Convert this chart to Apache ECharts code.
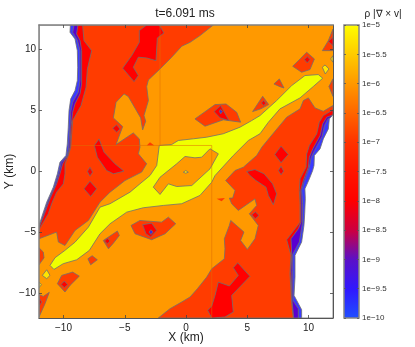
<!DOCTYPE html>
<html>
<head>
<meta charset="utf-8">
<style>
  html, body { margin: 0; padding: 0; background: #fff; }
  #chart { width: 415px; height: 347px; }
</style>
<script src="https://cdn.jsdelivr.net/npm/echarts@6/dist/echarts.min.js"></script>
</head>
<body>
<div id="chart"></div>
<script>
// contour outlines, all in km
const plotExtent = [-12, 12];
const tickValues = [-10, -5, 0, 5, 10];

const orangeRedRegions = [
  // big band on the left, runs over the top of the orange patch near (-5, 4)
  [[2.23,12],[1.14,11.13],[0.33,10.58],[-0.35,10.26],[-1.17,9.36],[-2.12,8.4],[-3.07,7.5],[-3.21,6.96],[-3.07,5.81],[-3.43,4.58],[-3.29,4.12],[-3.54,3.41],[-3.7,4.39],[-4.71,6.14],[-5.06,6.36],[-5.71,5.67],[-5.93,4.39],[-5.17,3.68],[-5.71,2.21],[-4.3,3.16],[-3.81,2.67],[-3.76,1.99],[-3.89,1.45],[-3.21,0.63],[-3.62,-0.05],[-4.98,-0.74],[-6.2,-1.69],[-7.02,-2.51],[-7.97,-4.01],[-9.06,-4.83],[-9.88,-6.06],[-10.42,-5.78],[-10.56,-4.96],[-12,-5.51],[-12,12]],
  // big band on the right
  [[3.24,-0.74],[4,-1.55],[3.81,-2.18],[3.54,-2.18],[3.73,-2.65],[4.27,-3.19],[5.63,-2.24],[5.77,-2.78],[5.17,-3.46],[5.9,-4.42],[5.63,-5.51],[5.01,-6.38],[4.46,-5.65],[4.73,-4.96],[3.65,-4.01],[3.54,-4.42],[3.13,-5.51],[3.18,-6.33],[3.13,-7.15],[2.1,-7.97],[1.69,-8.65],[0.93,-9.6],[0.33,-10.28],[-0.35,-10.69],[-1.31,-11.24],[-2.26,-12],[12,-12],[12,5.4],[11.21,4.93],[10.53,5.21],[9.99,6.03],[9.58,5.81],[9.31,5.13],[8.22,4.45],[6.86,2.81],[6.2,2],[5.77,1.31],[4.68,0.35],[4,0.08]],
  [[-4.49,-4.42],[-3.76,-4.01],[-1.99,-4.15],[-1.44,-3.74],[-0.84,-4.28],[-1.71,-5.1],[-2.8,-5.59],[-4.16,-5.1]],
  [[-6.75,-5.65],[-5.6,-4.88],[-5.44,-5.24],[-5.93,-5.87],[-6.33,-6.33]],
  [[-8.01,-7.15],[-7.66,-6.9],[-7.24,-7.23],[-7.78,-7.64]],
  [[-10.5,-9.19],[-10.15,-8.51],[-9.25,-8.24],[-8.71,-8.57],[-9.47,-9.33],[-9.88,-9.87]],
  [[-12,-6.25],[-11.65,-6.6],[-11.59,-7.07],[-12,-7.64]],
  [[-12,-10.07],[-11.65,-10.23],[-11.16,-9.9],[-11.51,-10.83],[-12,-11.92]],
  [[0.73,4.31],[2.37,5.48],[3.27,5.53],[4.14,4.85],[4.46,4.04],[3.05,4.23],[1.55,3.71]],
  [[5.44,4.91],[6.26,6.16],[6.75,5.48],[6.1,5.13]],
  [[7.18,7.17],[7.62,7.58],[8,6.84],[7.67,6.95]],
  [[8.71,8.62],[9.31,9.22],[9.85,9.77],[10.48,9.22],[10.12,8.35],[9.44,8.13]],
  [[11.13,9.9],[11.62,10.72],[12,11.67],[12,9.9]],
  [[12,7.59],[11.67,6.96],[12,6.15]]
];
// little tips cut off at the grid refinement edge, no outline there
const orangeRedTips = [
  [[-3.21,2.13],[-2.94,2.4],[-2.59,2.13]],
  [[2.5,-2.24],[2.91,-2.43],[3.18,-2.18]]
];

const redRegions = [
  [[-3.81,11.54],[-3.21,12],[-2.18,12],[-1.8,11.35],[-2.34,10.94],[-2.45,9.08],[-3.21,9.3],[-3.89,9.36],[-4.3,8.54],[-3.89,7.86],[-4.24,7.36],[-5.17,8.46],[-4.44,9.49],[-3.81,10.58]],
  [[-5.99,3.55],[-5.66,3.82],[-5.39,3.49],[-5.66,3.22]],
  [[-7.1,2.67],[-7.48,2.13],[-7.24,1.17],[-6.48,0.08],[-5.93,-0.19],[-5.06,0.03],[-5.8,0.63],[-6.69,1.58]],
  [[-8.05,0],[-7.84,0.35],[-7.62,-0.05],[-7.84,-0.38]],
  [[-8.33,-1.42],[-7.84,-0.79],[-7.29,-1.42],[-7.78,-2.05]],
  [[-3.54,-4.36],[-2.8,-4.23],[-2.39,-4.83],[-2.88,-5.37],[-3.27,-5.1]],
  [[-6.64,-5.7],[-6.42,-5.46],[-6.2,-5.7],[-6.42,-5.92]],
  [[-10.2,-9.25],[-9.93,-8.97],[-9.66,-9.27],[-9.93,-9.52]],
  [[-12,-10.36],[-11.78,-10.69],[-12,-11.05]],
  [[1.77,-11.37],[2.1,-11.02],[2.37,-10.15],[2.64,-9.06],[3.54,-9.38],[4.27,-8.51],[3.86,-7.88],[4.22,-7.47],[5.22,-8.59],[3.73,-10.15],[3.86,-11.51],[3.18,-11.92],[2.1,-12]],
  [[4.95,0],[5.63,0.16],[6.37,-0.19],[7.07,-1.01],[7.4,-1.83],[7.13,-2.73],[6.72,-1.96],[6.53,-1.28],[5.71,-0.74],[5.22,-0.33]],
  [[5.36,-3.55],[5.66,-3.3],[5.96,-3.6],[5.66,-3.87]],
  [[7.24,1.39],[7.76,2.08],[8.35,1.39],[7.76,0.71]],
  [[7.54,0.08],[7.76,0.44],[7.97,0.03],[7.76,-0.27]],
  [[2.29,4.91],[2.83,5.4],[3.51,4.17],[2.78,4.39]],
  [[6.15,5.62],[6.34,5.81],[6.53,5.59],[6.34,5.4]],
  [[9.66,9.17],[9.9,9.41],[10.12,9.17],[9.9,8.89]],
  [[11.62,10.66],[12,10.99],[12,10.31]]
];

const blueSpots = [
  [[-3.02,-4.96],[-2.86,-4.77],[-2.69,-4.96],[-2.86,-5.16]],
  [[2.72,4.94],[2.83,5.07],[2.97,4.91],[2.83,4.72]]
];

const yellowRegions = [
  [[-11.1,-7.69],[-10.69,-7.06],[-9.88,-6.46],[-9.06,-5.79],[-7.97,-4.56],[-7.02,-2.92],[-6.2,-2.64],[-4.57,-1.69],[-3.76,-1.01],[-2.94,-0.33],[-2.39,0.49],[-2.18,2.13],[-1.17,2.21],[-0.63,2.54],[0.6,2.68],[1.69,2.81],[3.04,3.09],[4.41,3.63],[5.36,4.17],[6.04,4.58],[7.4,5.81],[8.63,7.04],[9.71,7.86],[10.8,7.94],[11.16,7.64],[10.39,6.96],[9.31,6.03],[7.67,5.13],[6.72,4.03],[6.04,3.09],[5.09,2.54],[3.86,1.31],[2.37,-0.33],[2.1,-0.88],[1.14,-1.96],[-0.35,-2.64],[-1.85,-2.78],[-3.49,-2.97],[-4.84,-3.33],[-6.2,-4.28],[-7.02,-5.1],[-7.89,-6.46],[-8.92,-7.23],[-10.02,-7.55],[-10.78,-8.02]]
];
const yellowInnerOrange = [
  [[-2.67,-1.28],[-2.12,-0.47],[-0.76,0.63],[-0.08,1.23],[0.73,1.12],[1.28,1.17],[1.96,1.86],[2.64,1.45],[1.96,0.22],[0.47,-1.15],[-0.76,-1.23],[-1.44,-1.01],[-2.12,-1.88]]
];
const goldSpots = [
  [[-0.22,-0.06],[-0.02,0.08],[0.19,-0.06],[-0.02,-0.14]],
  [[-11.73,-8.51],[-11.37,-8.05],[-11.1,-8.51],[-11.37,-8.78]],
  [[-12,-9.06],[-11.8,-9.27],[-12,-9.52]],
  [[11.13,8.54],[11.35,8.73],[11.67,8.4],[11.37,7.99]],
  [[11.81,9.22],[12,9.49],[12,8.95]]
];

// grid refinement edges that show through the fill
const meshLines = [
  [[-2.12,12],[-2.12,2.13]],
  [[-9.69,2.13],[2.1,2.13]],
  [[2.1,2.13],[2.1,-12]]
];

// the sharp edge of the flow on each side: nested contours
const leftRed = [[-8.44,12],[-8.33,10.72],[-7.7,9.9],[-8.05,8.4],[-8.16,6.9],[-8.57,5.4],[-9.25,4.17],[-9.33,3.08],[-9.41,1.99],[-9.61,1.31],[-9.88,0.63],[-9.88,-0.19],[-10.01,-1.01],[-10.56,-1.69],[-10.97,-2.65],[-11.24,-3.46],[-12,-4.77],[-12,12]];
const leftPurple = [[-8.82,12],[-8.93,11.27],[-8.65,10.72],[-8.52,9.9],[-8.52,7.17],[-8.65,6.36],[-9.06,5.54],[-9.25,4.86],[-9.39,3.63],[-9.47,1.99],[-9.65,1.31],[-10.07,0.63],[-10.29,-0.19],[-10.56,-1.01],[-11.1,-2.24],[-11.65,-3.74],[-12,-4.61],[-12,12]];
const leftBlue = [[-9.14,12],[-9.25,11.4],[-8.87,10.77],[-8.65,9.9],[-8.65,7.45],[-8.79,6.49],[-9.25,5.67],[-9.41,4.86],[-9.47,3.63],[-9.58,1.99],[-9.69,1.31],[-10.18,0.71],[-10.39,-0.19],[-10.69,-1.15],[-11.24,-2.37],[-11.73,-3.74],[-12,-4.5],[-12,12]];
const leftEmpty = [[-9.44,12],[-9.47,11.4],[-9.06,10.86],[-8.87,9.9],[-8.84,8.54],[-8.87,7.45],[-9.06,6.63],[-9.41,5.95],[-9.55,4.99],[-9.61,3.63],[-9.69,2.26],[-9.8,1.31],[-10.29,0.76],[-10.5,-0.19],[-10.83,-1.28],[-11.37,-2.51],[-11.78,-3.74],[-12,-4.42],[-12,12]];

const rightRed = [[12,5.05],[11.21,4.58],[10.88,4.04],[10.67,3.08],[10.07,2.13],[9.85,1.44],[9.8,0.36],[9.31,-0.6],[9.25,-1.55],[9.31,-2.65],[9.31,-4.15],[8.22,-5.59],[8.57,-6.87],[8.49,-8.37],[8.63,-10.83],[8.76,-12],[12,-12]];
const rightPurple = [[12,4.64],[11.49,4.45],[11.16,3.91],[10.95,2.95],[10.35,1.85],[10.07,1.17],[9.99,0.36],[9.58,-0.74],[9.36,-1.55],[9.39,-2.65],[9.39,-4.15],[9.17,-4.69],[8.57,-5.51],[8.63,-6.87],[8.57,-8.1],[8.65,-10.56],[8.79,-12],[12,-12]];
const rightBlue = [[12,4.5],[11.58,4.31],[11.3,3.77],[11.11,2.87],[10.48,1.72],[10.21,1.12],[10.07,0.36],[9.66,-0.79],[9.44,-1.55],[9.52,-2.65],[9.52,-4.15],[9.36,-5.1],[9.25,-5.78],[8.71,-6.79],[8.71,-8.1],[8.73,-10.56],[9.17,-11.24],[9.17,-12],[12,-12]];
const rightEmpty = [[12,4.64],[11.7,4.31],[11.62,3.49],[11.21,2.67],[10.94,1.85],[10.48,1.31],[10.45,0.49],[10.34,0.08],[10.07,-0.6],[9.71,-1.42],[9.74,-2.24],[9.69,-3.46],[9.63,-4.42],[9.44,-5.78],[8.9,-6.87],[8.9,-8.65],[8.82,-10.15],[9.44,-11.32],[9.44,-12],[12,-12]];

// colour bar: log10 of the value and its colour
const barLevels = [-5, -5.5, -6, -6.5, -7, -7.5, -8, -8.5, -9, -9.5, -10];
const barColors = ['#ffff00', '#ffcc00', '#ff9900', '#ff6600', '#ff3300', '#ff1500', '#ff0000', '#cc0040', '#5a10c8', '#3018ff', '#2050ff'];

const LINE = '#707070';
const FONT = '"Liberation Sans", Arial, sans-serif';

// each entry is painted over the ones before it
const layers = [
  { color: '#ff9900', stroke: false, polys: [[[-12,-12],[12,-12],[12,12],[-12,12]]] },
  { color: '#ff3c00', polys: orangeRedRegions },
  { color: '#ff3c00', stroke: false, polys: orangeRedTips },
  { color: '#ff0000', polys: redRegions },
  { color: '#3a2ae0', polys: blueSpots },
  { color: '#f0ff00', polys: yellowRegions },
  { color: '#ff9900', polys: yellowInnerOrange },
  { color: '#ffe600', polys: goldSpots },
  { color: '#ff0000', polys: [leftRed, rightRed] },
  { color: '#5a00d0', polys: [leftPurple, rightPurple] },
  { color: '#3a3aff', polys: [leftBlue, rightBlue] },
  { color: '#ffffff', polys: [leftEmpty, rightEmpty] }
];

function polygonSeries(layer) {
  return {
    type: 'custom',
    coordinateSystem: 'cartesian2d',
    xAxisIndex: 0,
    yAxisIndex: 0,
    clip: true,
    silent: true,
    data: layer.polys.map((p, i) => i),
    renderItem(params, api) {
      const pts = layer.polys[params.dataIndex].map(p => api.coord(p));
      return {
        type: 'polygon',
        shape: { points: pts },
        style: {
          fill: layer.color,
          stroke: layer.stroke === false ? null : LINE,
          lineWidth: 0.8
        }
      };
    }
  };
}

const meshSeries = {
  type: 'custom',
  coordinateSystem: 'cartesian2d',
  xAxisIndex: 0,
  yAxisIndex: 0,
  silent: true,
  data: meshLines.map((l, i) => i),
  renderItem(params, api) {
    const pts = meshLines[params.dataIndex].map(p => api.coord(p));
    return {
      type: 'polyline',
      shape: { points: pts },
      style: { fill: null, stroke: 'rgba(225,110,0,0.65)', lineWidth: 0.8 }
    };
  }
};

const barSeries = {
  type: 'custom',
  coordinateSystem: 'cartesian2d',
  xAxisIndex: 2,
  yAxisIndex: 2,
  silent: true,
  data: [0],
  renderItem(params, api) {
    const top = api.coord([0, barLevels[0]]);
    const bottom = api.coord([1, barLevels[barLevels.length - 1]]);
    const stops = barLevels.map((v, i) => ({
      offset: (barLevels[0] - v) / (barLevels[0] - barLevels[barLevels.length - 1]),
      color: barColors[i]
    }));
    return {
      type: 'rect',
      shape: { x: top[0], y: top[1], width: bottom[0] - top[0], height: bottom[1] - top[1] },
      style: {
        fill: new echarts.graphic.LinearGradient(0, 0, 0, 1, stops),
        stroke: '#858585',
        lineWidth: 1.5
      }
    };
  }
};

function minusSign(v) {
  return String(v).replace('-', '\u2212');
}

function plotAxis(position, showLabels, axisName, lineColor, lineWidth) {
  return {
    type: 'value',
    gridIndex: 0,
    position,
    min: plotExtent[0],
    max: plotExtent[1],
    z: 5,
    name: axisName,
    nameLocation: 'middle',
    nameMoveOverlap: false,
    nameGap: position === 'left' ? 23 : 14,
    nameTextStyle: { fontFamily: FONT, fontSize: 12, color: '#222' },
    axisLine: { show: true, onZero: false, lineStyle: { color: lineColor, width: lineWidth } },
    axisTick: { show: true, inside: true, length: 3, customValues: tickValues, lineStyle: { color: '#444', width: 0.8 } },
    axisLabel: {
      show: showLabels,
      customValues: tickValues,
      margin: position === 'left' ? 3 : 5,
      fontFamily: FONT,
      fontSize: 10,
      color: '#222',
      formatter: minusSign
    },
    splitLine: { show: false }
  };
}

function barAxis(position, showLabels) {
  return {
    type: 'value',
    gridIndex: 1,
    position,
    min: -10,
    max: -5,
    interval: 0.5,
    z: 5,
    axisLine: { show: false, onZero: false },
    axisTick: { show: true, inside: true, length: 2, lineStyle: { color: '#555', width: 0.8 } },
    axisLabel: {
      show: showLabels,
      margin: 3,
      fontFamily: FONT,
      fontSize: 8,
      color: '#333',
      formatter: v => '1e' + minusSign(v)
    },
    splitLine: { show: false }
  };
}

const chart = echarts.init(document.getElementById('chart'), null, { renderer: 'canvas' });
chart.setOption({
  animation: false,
  backgroundColor: '#fff',
  title: [
    { text: 't=6.091 ms', left: 180, top: 3, textAlign: 'center', textStyle: { fontFamily: FONT, fontSize: 12, fontWeight: 'normal', color: '#222' } },
    { text: '\u03c1 |\u2207 \u00d7 v|', left: 378, top: 4, textAlign: 'center', textStyle: { fontFamily: FONT, fontSize: 10, fontWeight: 'normal', color: '#222' } }
  ],
  grid: [
    { left: 39, top: 25, width: 294, height: 293, outerBoundsMode: 'none' },
    { left: 344, top: 25, width: 15, height: 293, outerBoundsMode: 'none' }
  ],
  xAxis: [
    plotAxis('bottom', true, 'X (km)', '#555', 1),
    plotAxis('top', false, '', '#808080', 1.5),
    { type: 'value', gridIndex: 1, min: 0, max: 1, show: false }
  ],
  yAxis: [
    plotAxis('left', true, 'Y (km)', '#808080', 1.5),
    plotAxis('right', false, '', '#555', 1),
    barAxis('right', true),
    barAxis('left', false)
  ],
  series: layers.slice(0, 8).map(polygonSeries)
    .concat([meshSeries])
    .concat(layers.slice(8).map(polygonSeries))
    .concat([barSeries])
});
</script>
</body>
</html>
